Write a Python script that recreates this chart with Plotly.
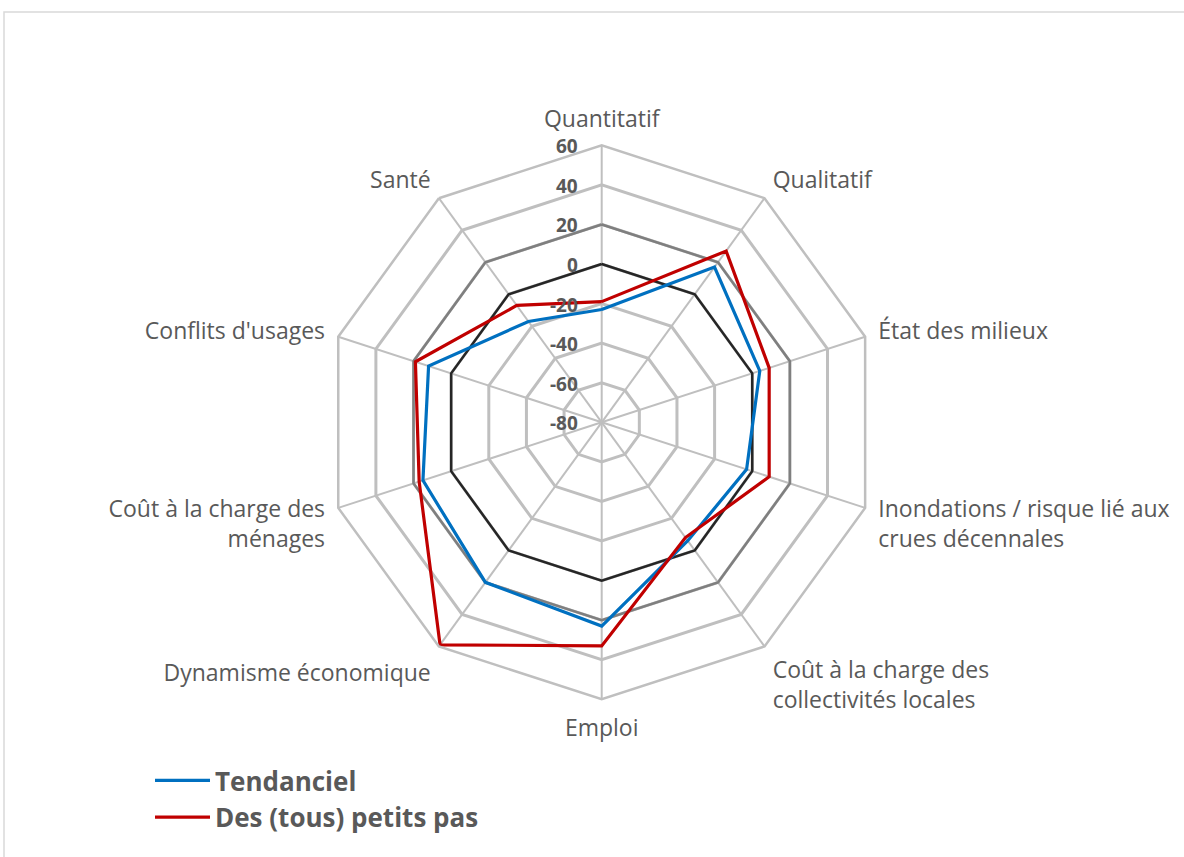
import plotly.graph_objects as go

# Axes of the radar, clockwise from the top
categories = [
    "Quantitatif",
    "Qualitatif",
    "État des milieux",
    "Inondations / risque lié aux<br>crues décennales",
    "Coût à la charge des<br>collectivités locales",
    "Emploi",
    "Dynamisme économique",
    "Coût à la charge des<br>ménages",
    "Conflits d'usages",
    "Santé",
]

# Scenario scores
tendanciel = [-23, 17, 4, -3, -6, 23, 20, 15, 12, -17]
petits_pas = [-19, 27, 9, 9, -8, 33, 59, 17, 19, -7]

# Highlighted reference rings
ring_levels = [20, 0]
ring_colors = ["#7f7f7f", "#262626"]

# Radial scale and its labels
r_min, r_max, r_step = -80, 60, 20
radial_ticks = [60, 40, 20, 0, -20, -40, -60, -80]

TEXT = "#595959"
GRID = "#bfbfbf"


def closed(values):
    return list(values) + [values[0]]


theta = closed(categories)

fig = go.Figure()

for level, color in zip(ring_levels, ring_colors):
    fig.add_trace(go.Scatterpolar(
        r=closed([level] * len(categories)),
        theta=theta,
        mode="lines",
        line=dict(color=color, width=2.5),
        showlegend=False,
        hoverinfo="skip",
    ))

fig.add_trace(go.Scatterpolar(
    r=closed(tendanciel), theta=theta, mode="lines",
    name="Tendanciel", line=dict(color="#0070c0", width=3.2),
))
fig.add_trace(go.Scatterpolar(
    r=closed(petits_pas), theta=theta, mode="lines",
    name="Des (tous) petits pas", line=dict(color="#c00000", width=3.2),
))

cx, cy, R = 601.7, 422.3, 277.0
W, H = 1184, 857

# Radial values written horizontally, just left of the vertical spoke
tick_notes = []
for v in radial_ticks:
    y_px = cy - (v - r_min) / (r_max - r_min) * R
    tick_notes.append(dict(
        text=str(v), showarrow=False,
        xref="paper", yref="paper",
        x=(cx - 23) / W, xanchor="right",
        y=(H - y_px - 1) / H, yanchor="middle",
        borderpad=0,
        font=dict(family="Open Sans", size=19, color=TEXT, weight="bold"),
    ))

fig.update_layout(
    width=W, height=H,
    margin=dict(l=0, r=0, t=0, b=0),
    paper_bgcolor="white",
    plot_bgcolor="white",
    font=dict(family="Open Sans", color=TEXT),
    polar=dict(
        domain=dict(
            x=[(cx - R) / W, (cx + R) / W],
            y=[(H - cy - R) / H, (H - cy + R) / H],
        ),
        bgcolor="white",
        gridshape="linear",
        radialaxis=dict(
            range=[r_min, r_max],
            tick0=r_min, dtick=r_step,
            angle=90,
            showline=False,
            showticklabels=False,
            ticks="",
            gridcolor=GRID, gridwidth=2.5,
        ),
        angularaxis=dict(
            rotation=90,
            direction="clockwise",
            showline=True,
            linecolor=GRID, linewidth=2.5,
            gridcolor=GRID, gridwidth=2.2,
            ticks="outside", ticklen=8, tickcolor="rgba(0,0,0,0)",
            tickfont=dict(family="Open Sans", size=23, color=TEXT),
        ),
    ),
    legend=dict(
        x=150 / W, xanchor="left",
        y=(H - 757) / H, yanchor="top",
        itemwidth=55,
        font=dict(family="Open Sans", size=26, color=TEXT, weight="bold"),
        bgcolor="rgba(0,0,0,0)",
    ),
    annotations=tick_notes,
    shapes=[dict(
        type="rect", xref="paper", yref="paper",
        x0=4 / W, x1=1.02, y0=-0.05, y1=(H - 12) / H,
        line=dict(color="#d9d9d9", width=1.5),
        fillcolor="rgba(0,0,0,0)",
        layer="below",
    )],
)

fig.write_html("out.html")
